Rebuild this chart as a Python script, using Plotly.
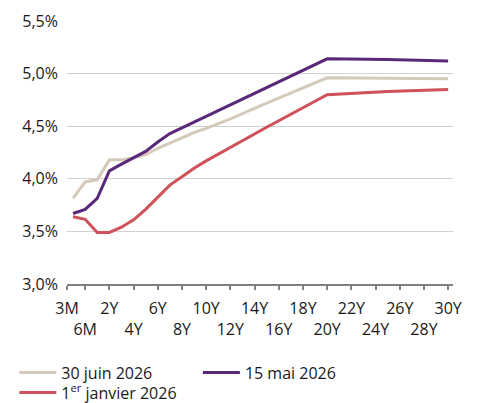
import plotly.graph_objects as go

# Full tenor grid (category order of the axis)
all_tenors = ["3M", "6M"] + [f"{y}Y" for y in range(1, 31)]

# Tenors with observations
tenors = ["3M", "6M", "1Y", "2Y", "3Y", "4Y", "5Y", "6Y", "7Y", "8Y", "9Y",
          "10Y", "12Y", "15Y", "20Y", "25Y", "30Y"]

juin_2026 = [3.815, 3.97, 3.99, 4.18, 4.18, 4.20, 4.23, 4.29, 4.34, 4.39, 4.44,
             4.48, 4.57, 4.72, 4.96, 4.955, 4.95]
mai_2026 = [3.67, 3.71, 3.815, 4.075, 4.14, 4.20, 4.26, 4.35, 4.43, 4.485, 4.54,
            4.595, 4.70, 4.87, 5.14, 5.135, 5.12]
janvier_2026 = [3.64, 3.615, 3.49, 3.49, 3.54, 3.61, 3.71, 3.83, 3.94, 4.02, 4.10,
                4.17, 4.30, 4.49, 4.80, 4.83, 4.85]

tick_labels = ["3M", "6M", "2Y", "4Y", "6Y", "8Y", "10Y", "12Y", "14Y", "16Y",
               "18Y", "20Y", "22Y", "24Y", "26Y", "28Y", "30Y"]
y_ticks = [3.0, 3.5, 4.0, 4.5, 5.0, 5.5]

xpos = [all_tenors.index(t) for t in tenors]
tickvals = [-0.5 if t == "3M" else all_tenors.index(t) for t in tick_labels]
ticktext = [t if i % 2 == 0 else "<br>" + t for i, t in enumerate(tick_labels)]

FONT = "Open Sans"
TXT = "#1a1a1a"
fig = go.Figure()
series = [
    ("30 juin 2026", juin_2026, "#D5C9BA", "legend"),
    ("15 mai 2026", mai_2026, "#5A2878", "legend2"),
    ("1<sup>er</sup> janvier 2026", janvier_2026, "#CF5159", "legend3"),
]
for name, vals, col, lg in series:
    fig.add_trace(go.Scatter(x=xpos, y=vals, mode="lines", name=name, legend=lg,
                             line=dict(color=col, width=3)))

leg_common = dict(orientation="h", xref="container", yref="container",
                  yanchor="top", xanchor="left",
                  font=dict(family=FONT, size=16, color=TXT),
                  itemwidth=37, bgcolor="rgba(0,0,0,0)")

fig.update_layout(
    width=478, height=403,
    margin=dict(l=67, r=25, t=21, b=119, autoexpand=False),
    paper_bgcolor="white", plot_bgcolor="white",
    font=dict(family=FONT, size=16, color=TXT),
    showlegend=True,
    legend=dict(x=0.03, y=0.1176, **leg_common),
    legend2=dict(x=0.414, y=0.1176, **leg_common),
    legend3=dict(x=0.03, y=0.068, **leg_common),
)
fig.update_xaxes(range=[-0.5, 31.4], tickmode="array", tickvals=tickvals,
                 ticktext=ticktext, showgrid=False, zeroline=False,
                 showline=True, linecolor="#808080", linewidth=1.5,
                 ticks="outside", ticklen=4, tickcolor="#808080", tickwidth=1.5,
                 ticklabelstandoff=5, tickangle=0)
fig.update_yaxes(range=[3.0, 5.5], tickmode="array", tickvals=y_ticks,
                 ticktext=[f"{v:.1f}%".replace(".", ",") for v in y_ticks],
                 showgrid=True, gridcolor="#D0D0D0", gridwidth=1,
                 zeroline=False, showline=False, ticks="", ticklabelstandoff=8)

fig.write_html("out.html")
